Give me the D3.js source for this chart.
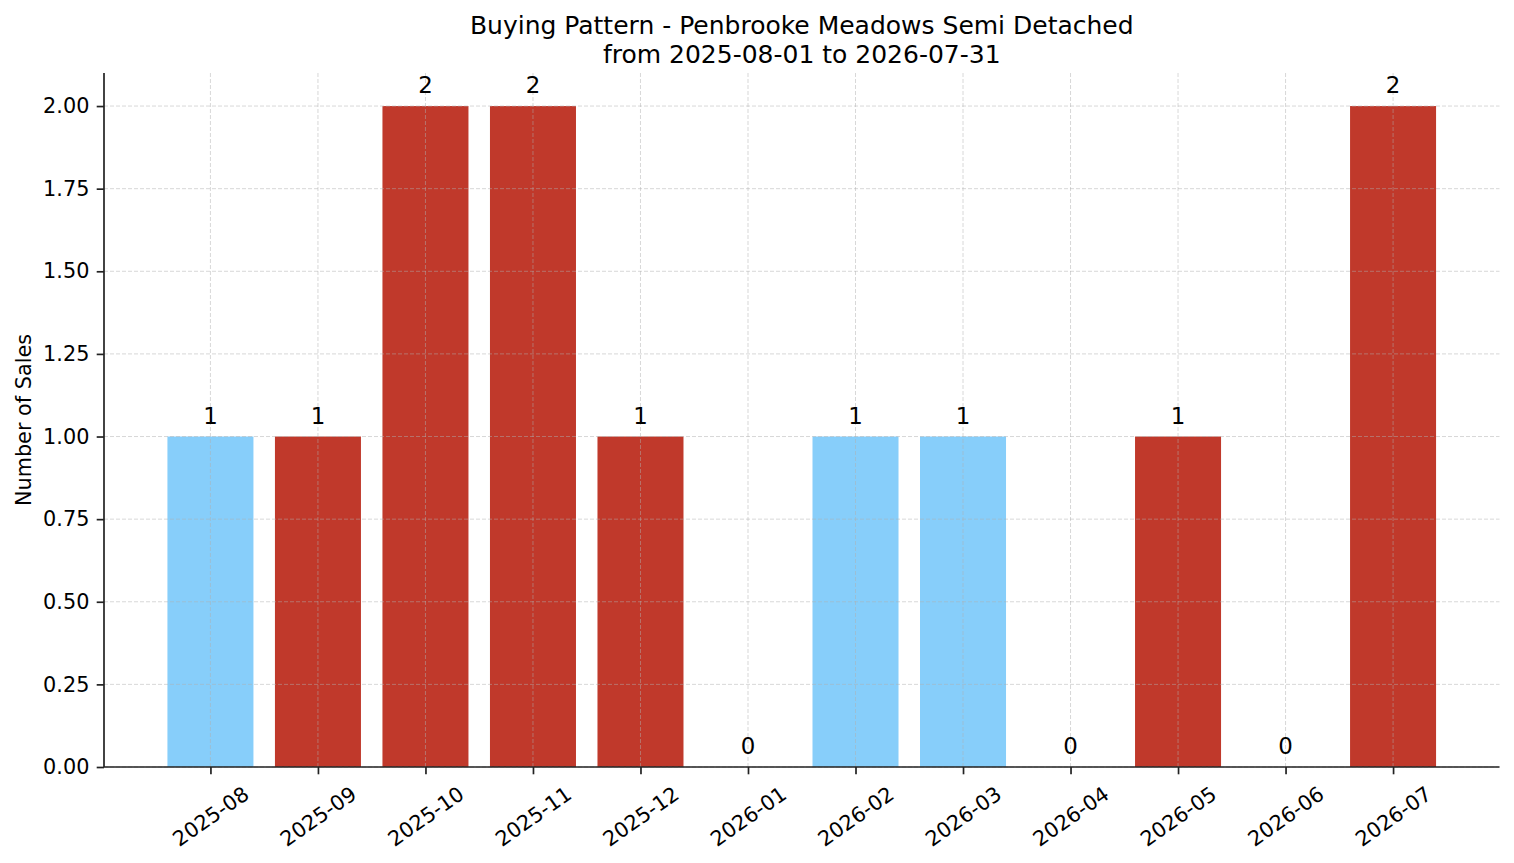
<!DOCTYPE html>
<html>
<head>
<meta charset="utf-8">
<script src="https://cdn.jsdelivr.net/npm/d3@7"></script>
<style>
    html, body { margin: 0; padding: 0; background: #fff; }
    svg text { font-family: "DejaVu Sans", sans-serif; fill: #000; }
    .grid line { stroke: #b0b0b0; stroke-opacity: 0.55; stroke-width: 0.9; stroke-dasharray: 4,2; }
    .axis path, .axis line { stroke: #222; }
</style>
</head>
<body>
<div id="chart"></div>
<script>
// data
var months = ["2025-08", "2025-09", "2025-10", "2025-11", "2025-12", "2026-01",
              "2026-02", "2026-03", "2026-04", "2026-05", "2026-06", "2026-07"];
var sales = [1, 1, 2, 2, 1, 0, 1, 1, 0, 1, 0, 2];
var barKind = ["blue", "red", "red", "red", "red", "red",
               "blue", "blue", "red", "red", "red", "red"];
var yTicks = [0, 0.25, 0.5, 0.75, 1, 1.25, 1.5, 1.75, 2];
var titleLines = ["Buying Pattern - Penbrooke Meadows Semi Detached",
                  "from 2025-08-01 to 2026-07-31"];

var colors = { blue: "#87CEFA", red: "#C0392B" };

var width  = 1514;
var height = 863;
var margin = {top: 73, right: 14.5, bottom: 96, left: 104};
var fs = 20.8;      // ticks and axis label
var labelFs = 22.9; // value labels over bars

var innerW = width - margin.left - margin.right;
var innerH = height - margin.top - margin.bottom;

var svg = d3.select("#chart").append("svg")
    .attr("width", width)
    .attr("height", height);

var g = svg.append("g")
    .attr("transform", "translate(" + margin.left + "," + margin.top + ")");

// index scale like matplotlib categorical bars with 5% margins
var barW = 0.8;
var span = (months.length - 1) + barW;
var pad = span * 0.05;
var x = d3.scaleLinear()
    .domain([-barW / 2 - pad, months.length - 1 + barW / 2 + pad])
    .range([0, innerW]);

var y = d3.scaleLinear().domain([0, 2.1]).range([innerH, 0]);

var data = months.map(function(m, i) {
    return {month: m, i: i, count: sales[i], kind: barKind[i]};
});

// bars
g.selectAll(".bar")
    .data(data)
    .enter()
    .append("rect")
    .attr("class", "bar")
    .attr("x", function(d) { return x(d.i - barW / 2); })
    .attr("width", function(d) { return x(barW) - x(0); })
    .attr("y", function(d) { return y(d.count); })
    .attr("height", function(d) { return innerH - y(d.count); })
    .attr("fill", function(d) { return colors[d.kind]; });

// grid on top of the bars
var grid = g.append("g").attr("class", "grid");
grid.selectAll(".gy")
    .data(yTicks)
    .enter()
    .append("line")
    .attr("x1", 0).attr("x2", innerW)
    .attr("y1", function(d) { return y(d); })
    .attr("y2", function(d) { return y(d); });
grid.selectAll(".gx")
    .data(data)
    .enter()
    .append("line")
    .attr("y1", 0).attr("y2", innerH)
    .attr("x1", function(d) { return x(d.i); })
    .attr("x2", function(d) { return x(d.i); });

// value labels
g.selectAll(".label")
    .data(data)
    .enter()
    .append("text")
    .attr("class", "label")
    .attr("x", function(d) { return x(d.i); })
    .attr("y", function(d) { return y(d.count) - 13; })
    .attr("text-anchor", "middle")
    .style("font-size", labelFs + "px")
    .text(function(d) { return d.count; });

// axes
var yAxis = d3.axisLeft(y)
    .tickValues(yTicks)
    .tickFormat(d3.format(".2f"))
    .tickSize(7.3)
    .tickPadding(7.3);

var yG = g.append("g")
    .attr("class", "axis")
    .call(yAxis);
yG.select(".domain").attr("d", "M0," + innerH + "V0").attr("stroke-width", 1.7);
yG.selectAll(".tick line").attr("stroke-width", 1.7);
yG.selectAll("text").style("font-size", fs + "px").attr("fill", "#000");

var xAxis = d3.axisBottom(x)
    .tickValues(data.map(function(d) { return d.i; }))
    .tickFormat(function(i) { return months[i]; })
    .tickSize(7.3)
    .tickPadding(7.3);

var xG = g.append("g")
    .attr("class", "axis")
    .attr("transform", "translate(0," + innerH + ")")
    .call(xAxis);
xG.select(".domain").attr("d", "M0,0H" + innerW).attr("stroke-width", 1.7);
xG.selectAll(".tick line").attr("stroke-width", 1.7);

// rotated tick labels, bounding box centred under the tick
var ang = 35 * Math.PI / 180;
xG.selectAll(".tick text")
    .style("font-size", fs + "px")
    .attr("fill", "#000")
    .attr("dy", null)
    .attr("text-anchor", "middle")
    .attr("dominant-baseline", "central")
    .each(function() {
        var t = d3.select(this);
        var w = this.getComputedTextLength();
        var h = fs * 1.17;
        var H = w * Math.sin(ang) + h * Math.cos(ang);
        var cy = 14.6 + H / 2;
        t.attr("y", null)
         .attr("transform", "translate(0," + cy + ") rotate(-35)");
    });

// y axis label
svg.append("text")
    .attr("transform", "translate(31," + (margin.top + innerH / 2) + ") rotate(-90)")
    .attr("text-anchor", "middle")
    .style("font-size", fs + "px")
    .text("Number of Sales");

// title
svg.append("text")
    .attr("x", margin.left + innerW / 2)
    .attr("text-anchor", "middle")
    .style("font-size", "25px")
    .selectAll("tspan")
    .data(titleLines)
    .enter()
    .append("tspan")
    .attr("x", margin.left + innerW / 2)
    .attr("y", function(d, i) { return 34 + i * 29; })
    .text(function(d) { return d; });
</script>
</body>
</html>
